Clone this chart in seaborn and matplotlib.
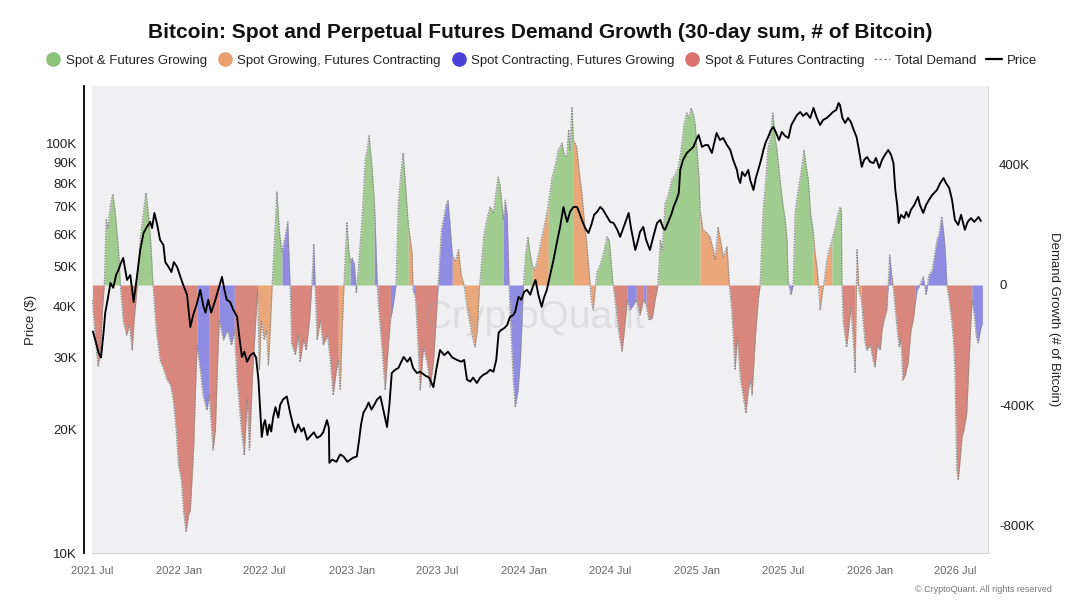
import numpy as np
import pandas as pd
import matplotlib
matplotlib.use("Agg")
import matplotlib.pyplot as plt
from matplotlib.lines import Line2D
from matplotlib.ticker import NullLocator
import seaborn as sns

# ---------------- data ----------------
START = "2021-07-01"

# Total demand growth (30-day sum), thousands of BTC, at day offsets from START
demand_days = [
    1, 7, 13, 18, 22, 26, 30, 34, 39, 44,
    49, 56, 60, 66, 73, 79, 85, 89, 96, 102,
    108, 114, 119, 124, 129, 136, 144, 151, 159, 166,
    172, 178, 183, 189, 194, 199, 204, 208, 215, 222,
    229, 235, 243, 248, 256, 261, 265, 269, 278, 286,
    295, 301, 307, 316, 322, 328, 333, 339, 345, 350,
    354, 358, 364, 369, 373, 377, 381, 386, 391, 396,
    402, 407, 414, 417, 420, 422, 430, 436, 440, 447,
    453, 460, 465, 469, 472, 476, 483, 489, 498, 504,
    510, 517, 521, 525, 529, 533, 539, 543, 546, 550,
    555, 559, 563, 571, 578, 582, 586, 592, 597, 603,
    605, 612, 620, 626, 631, 637, 643, 648, 653, 658,
    662, 669, 677, 679, 684, 688, 694, 701, 709, 715,
    722, 729, 734, 739, 745, 749, 753, 758, 762, 768,
    775, 781, 787, 791, 798, 804, 810, 815, 819, 825,
    829, 835, 842, 849, 855, 859, 863, 870, 874, 878,
    882, 887, 891, 895, 901, 906, 912, 917, 922, 927,
    931, 937, 944, 950, 954, 961, 965, 973, 980, 986,
    994, 999, 1004, 1008, 1011, 1015, 1018, 1025, 1030, 1036,
    1041, 1047, 1051, 1056, 1060, 1064, 1068, 1075, 1081, 1089,
    1094, 1098, 1102, 1109, 1115, 1121, 1126, 1132, 1138, 1145,
    1151, 1159, 1166, 1172, 1178, 1185, 1191, 1197, 1202, 1206,
    1212, 1219, 1226, 1233, 1240, 1246, 1252, 1258, 1263, 1267,
    1271, 1276, 1279, 1284, 1286, 1292, 1299, 1307, 1314, 1318,
    1324, 1331, 1335, 1343, 1348, 1353, 1360, 1365, 1371, 1377,
    1383, 1388, 1392, 1396, 1403, 1409, 1413, 1417, 1419, 1425,
    1430, 1434, 1440, 1445, 1448, 1455, 1460, 1466, 1470, 1472,
    1478, 1483, 1487, 1492, 1498, 1502, 1506, 1510, 1515, 1520,
    1525, 1529, 1534, 1540, 1544, 1549, 1554, 1559, 1565, 1572,
    1577, 1582, 1585, 1586, 1589, 1596, 1600, 1605, 1610, 1614,
    1618, 1622, 1627, 1635, 1639, 1646, 1652, 1656, 1661, 1667,
    1671, 1675, 1681, 1684, 1687, 1690, 1694, 1701, 1707, 1711,
    1715, 1720, 1726, 1732, 1737, 1741, 1745, 1751, 1758, 1764,
    1770, 1777, 1782, 1787, 1791, 1797, 1801, 1804, 1808, 1813,
    1818, 1822, 1825, 1829, 1832, 1836, 1840, 1844, 1850, 1855,
    1861, 1866, 1870, 1874, 1879, 1883,
]
demand_k = [
    -50, -183, -270, -217, -83, 0, 217, 190, 267, 303,
    243, 117, 0, -117, -167, -133, -217, -117, 0, 150,
    233, 307, 240, 150, 0, -150, -250, -277, -317, -333,
    -383, -483, -600, -650, -760, -823, -767, -750, -540, -200,
    -283, -367, -417, -367, -550, -483, -283, -117, -183, -150,
    -200, -150, -317, -483, -567, -383, -550, -317, -150, -17,
    -283, -117, -183, -150, -267, -150, 0, 150, 310, 183,
    107, 150, 210, 83, -50, -193, -233, -167, -257, -183,
    -217, -117, 0, 137, 0, -183, -117, -200, -167, -250,
    -367, -283, -250, -350, -150, 0, 210, 117, 77, 90,
    67, -27, 50, 217, 417, 450, 497, 397, 283, 17,
    -50, -183, -350, -217, -117, -67, 0, 273, 367, 440,
    357, 200, 107, -17, -40, -150, -350, -207, -260, -340,
    -260, -83, 50, 183, 233, 267, 283, 183, 100, 77,
    117, 33, 0, -50, -117, -167, -207, -150, -17, 93,
    167, 217, 260, 240, 317, 360, 333, 217, 283, 233,
    0, -183, -317, -407, -350, -250, -17, 100, 160, 100,
    67, 50, 100, 150, 177, 233, 267, 360, 400, 450,
    473, 433, 427, 517, 450, 593, 483, 460, 383, 307,
    217, 127, 50, -50, -83, -17, 43, 67, 100, 160,
    150, 77, 0, -83, -167, -223, -150, -50, -83, -67,
    -50, -100, -50, -67, -117, -110, -50, 0, 150, 117,
    273, 300, 350, 367, 393, 450, 533, 573, 557, 590,
    573, 533, 460, 350, 250, 183, 177, 160, 117, 83,
    193, 133, 93, 127, 0, -83, -283, -173, -307, -367,
    -427, -350, -317, -367, -173, -50, 0, 150, 240, 350,
    460, 483, 573, 483, 460, 350, 283, 217, 150, 17,
    -33, 0, 240, 300, 360, 400, 450, 400, 350, 233,
    183, 110, 50, -83, -33, 17, 83, 117, 150, 193,
    233, 260, 250, 0, -127, -207, -150, -73, -183, -293,
    117, -17, -50, -193, -217, -200, -250, -273, -200, -217,
    -150, -117, -83, 0, 100, 50, 0, -117, -207, -183,
    -317, -300, -260, -150, -117, -60, -17, 0, 27, -33,
    33, 50, 100, 150, 167, 227, 177, 127, 0, -50,
    -117, -183, -283, -617, -650, -583, -507, -483, -427, -250,
    -50, -100, -167, -193, -150, -127,
]

# Regime runs: day offset where each colour state starts
regime_start_days = [
    1, 26, 60, 96, 129, 222, 248, 269, 301, 350,
    381, 402, 422, 465, 472, 521, 533, 546, 559, 597,
    605, 631, 643, 669, 679, 684, 729, 762, 819, 870,
    912, 931, 965, 1018, 1064, 1102, 1132, 1151, 1166, 1172,
    1197, 1286, 1348, 1413, 1472, 1483, 1525, 1565, 1586, 1614,
    1627, 1681, 1690, 1741, 1808, 1861,
]
regime_codes = [
    "R", "G", "R", "G", "R", "B", "R", "B", "R", "O",
    "G", "B", "R", "B", "R", "O", "G", "B", "G", "B",
    "R", "B", "G", "O", "B", "R", "B", "O", "G", "B",
    "G", "O", "G", "O", "G", "R", "B", "R", "B", "R",
    "G", "O", "R", "G", "B", "G", "O", "G", "R", "O",
    "R", "B", "R", "B", "R", "B",
]

# Bitcoin price, thousands of USD
price_days = [
    2, 7, 14, 19, 24, 28, 33, 39, 45, 51,
    56, 62, 66, 74, 81, 88, 95, 102, 109, 116,
    123, 127, 132, 138, 144, 151, 155, 162, 168, 173,
    180, 187, 193, 201, 208, 214, 221, 229, 235, 240,
    246, 252, 261, 267, 275, 280, 285, 292, 299, 307,
    311, 317, 322, 328, 335, 342, 347, 352, 356, 359,
    363, 366, 371, 375, 379, 383, 388, 394, 398, 404,
    412, 419, 425, 430, 436, 443, 448, 455, 462, 469,
    476, 483, 489, 497, 501, 502, 508, 517, 525, 532,
    540, 546, 553, 560, 565, 569, 574, 580, 585, 591,
    597, 603, 610, 616, 624, 629, 634, 641, 648, 659,
    667, 673, 679, 687, 694, 705, 713, 722, 728, 736,
    745, 753, 762, 772, 781, 787, 793, 800, 806, 814,
    821, 827, 835, 842, 849, 855, 860, 865, 872, 878,
    884, 891, 895, 902, 908, 914, 920, 927, 932, 938,
    944, 951, 956, 962, 969, 976, 983, 990, 997, 1001,
    1005, 1011, 1018, 1026, 1030, 1036, 1043, 1050, 1056, 1062,
    1068, 1075, 1081, 1087, 1096, 1103, 1111, 1117, 1126, 1135,
    1140, 1149, 1155, 1159, 1166, 1172, 1180, 1187, 1195, 1202,
    1208, 1212, 1219, 1225, 1230, 1236, 1241, 1244, 1250, 1258,
    1265, 1272, 1278, 1283, 1290, 1297, 1303, 1311, 1316, 1321,
    1328, 1335, 1343, 1350, 1356, 1364, 1367, 1371, 1375, 1381,
    1388, 1392, 1399, 1404, 1409, 1415, 1420, 1425, 1430, 1436,
    1441, 1446, 1453, 1459, 1466, 1473, 1479, 1485, 1491, 1498,
    1504, 1511, 1519, 1526, 1533, 1540, 1546, 1554, 1561, 1567,
    1574, 1579, 1582, 1587, 1593, 1599, 1605, 1611, 1617, 1622,
    1628, 1633, 1639, 1646, 1653, 1658, 1665, 1671, 1677, 1684,
    1690, 1695, 1699, 1703, 1706, 1711, 1718, 1722, 1727, 1732,
    1739, 1747, 1751, 1758, 1764, 1770, 1777, 1787, 1794, 1801,
    1806, 1813, 1819, 1825, 1832, 1838, 1846, 1852, 1859, 1866,
    1875, 1880,
]
price_k = [
    34.7, 33.1, 30.8, 30.0, 34.1, 38.6, 41.5, 45.6, 44.4, 47.7,
    49.1, 51.3, 52.5, 46.4, 47.7, 41.0, 47.2, 54.9, 60.4, 62.5,
    64.3, 62.1, 67.6, 63.2, 58.1, 56.5, 51.3, 49.9, 48.5, 51.3,
    49.9, 47.2, 45.1, 42.7, 35.6, 38.1, 40.3, 43.9, 40.3, 38.6,
    41.5, 38.6, 41.5, 43.9, 47.2, 43.9, 41.5, 41.0, 39.2, 37.7,
    34.1, 30.1, 31.0, 29.3, 30.4, 30.8, 30.0, 26.5, 22.0, 19.2,
    20.6, 21.1, 19.4, 20.6, 19.8, 21.4, 22.7, 21.4, 23.0, 23.7,
    24.1, 22.0, 20.6, 19.7, 20.6, 19.8, 20.2, 18.9, 19.3, 19.7,
    19.1, 19.3, 19.7, 21.1, 20.2, 16.6, 16.9, 16.7, 17.4, 17.2,
    16.7, 16.9, 17.1, 17.2, 18.9, 20.6, 22.0, 22.6, 23.3, 22.4,
    23.0, 23.7, 24.1, 22.4, 20.3, 23.0, 27.5, 28.0, 28.3, 30.1,
    29.3, 30.0, 28.3, 27.5, 27.7, 27.1, 26.8, 25.4, 28.0, 31.3,
    30.4, 31.0, 30.0, 29.6, 29.3, 29.6, 26.5, 26.2, 26.8, 26.0,
    26.8, 27.2, 27.5, 28.0, 27.7, 29.6, 34.5, 35.0, 35.4, 36.0,
    37.7, 38.1, 38.8, 42.2, 41.5, 43.4, 43.9, 42.7, 44.6, 46.4,
    42.7, 39.9, 42.0, 43.9, 47.7, 51.9, 57.1, 62.5, 69.9, 66.9,
    64.3, 68.0, 69.9, 69.9, 68.0, 65.0, 62.1, 60.4, 63.2, 66.9,
    68.0, 69.9, 68.8, 66.9, 64.3, 63.9, 61.5, 59.1, 63.2, 67.6,
    62.1, 54.9, 58.1, 60.8, 62.5, 58.1, 54.9, 59.1, 63.9, 65.0,
    62.1, 61.5, 64.3, 66.9, 69.9, 72.7, 75.6, 86.1, 91.1, 94.7,
    96.3, 98.0, 101.9, 104.8, 98.0, 99.0, 99.0, 94.7, 100.2, 106.0,
    101.9, 103.0, 99.0, 96.3, 91.1, 86.1, 82.3, 80.0, 85.1, 83.2,
    86.1, 81.4, 76.9, 82.3, 86.1, 91.1, 96.3, 100.7, 103.6, 107.8,
    109.6, 106.6, 101.9, 106.6, 104.2, 103.0, 110.8, 114.0, 117.3, 119.2,
    116.6, 118.6, 115.3, 122.0, 115.3, 110.8, 114.0, 115.3, 117.3, 119.2,
    120.6, 125.4, 124.0, 115.3, 112.1, 115.3, 112.7, 107.8, 103.6, 96.3,
    87.6, 91.1, 92.6, 90.0, 89.5, 92.1, 87.1, 91.1, 93.7, 96.3,
    93.7, 89.5, 76.9, 70.7, 63.9, 66.9, 65.7, 68.0, 66.1, 68.8,
    70.7, 74.0, 70.7, 67.6, 70.7, 72.7, 74.8, 76.9, 80.0, 82.3,
    80.0, 77.8, 72.7, 65.0, 63.2, 66.9, 61.5, 64.3, 65.7, 64.3,
    66.1, 64.6,
]

categories = [
    "Spot & Futures Growing",
    "Spot Growing, Futures Contracting",
    "Spot Contracting, Futures Growing",
    "Spot & Futures Contracting",
]
category_codes = ["G", "O", "B", "R"]
legend_colors = ["#8cc27a", "#e8a06e", "#4a3fd6", "#d9736b"]
fill_colors = ["#a1cc90", "#eaa77a", "#918ce3", "#d9877d"]

price_ticks = [10000, 20000, 30000, 40000, 50000, 60000, 70000, 80000, 90000, 100000]
price_tick_labels = ["10K", "20K", "30K", "40K", "50K", "60K", "70K", "80K", "90K", "100K"]
demand_ticks = [-800, -400, 0, 400]
demand_tick_labels = ["-800K", "-400K", "0", "400K"]
date_ticks = ["2021-07-01", "2022-01-01", "2022-07-01", "2023-01-01", "2023-07-01",
              "2024-01-01", "2024-07-01", "2025-01-01", "2025-07-01", "2026-01-01",
              "2026-07-01"]
date_tick_labels = ["2021 Jul", "2022 Jan", "2022 Jul", "2023 Jan", "2023 Jul",
                    "2024 Jan", "2024 Jul", "2025 Jan", "2025 Jul", "2026 Jan", "2026 Jul"]

TITLE = "Bitcoin: Spot and Perpetual Futures Demand Growth (30-day sum, # of Bitcoin)"

assert len(demand_days) == len(demand_k)
assert len(price_days) == len(price_k)
assert len(regime_start_days) == len(regime_codes)

# ---------------- build frames ----------------
sns.set_style("white")
plt.rcParams["font.family"] = ["Liberation Sans", "DejaVu Sans"]

base = pd.Timestamp(START)
dem = pd.DataFrame({
    "date": base + pd.to_timedelta(demand_days, unit="D"),
    "demand": demand_k,
})
idx = np.searchsorted(regime_start_days, demand_days, side="right") - 1
dem["regime"] = np.array(regime_codes)[idx]
px = pd.DataFrame({
    "date": base + pd.to_timedelta(price_days, unit="D"),
    "price": np.array(price_k) * 1000.0,
})
fill_map = dict(zip(category_codes, fill_colors))

# ---------------- figure ----------------
fig = plt.figure(figsize=(10.8, 6.04), dpi=100)
ax = fig.add_axes([92 / 1080, 1 - 553 / 604, 896 / 1080, 467 / 604])
ax.set_facecolor("#f0f0f2")

codes = dem["regime"].to_numpy()
dates = dem["date"].to_numpy()
vals = dem["demand"].to_numpy(dtype=float)
n = len(codes)
i = 0
while i < n - 1:
    j = i
    while j + 1 < n - 1 and codes[j + 1] == codes[i]:
        j += 1
    ax.fill_between(dates[i:j + 2], 0, vals[i:j + 2], color=fill_map[codes[i]],
                    linewidth=0, zorder=2)
    i = j + 1

sns.lineplot(data=dem, x="date", y="demand", ax=ax, color="#8a8a8a", linewidth=0.9,
             linestyle=(0, (1.2, 1.0)), estimator=None, sort=False, zorder=3)

ax.text(0.494, 0.503, "CryptoQuant", transform=ax.transAxes, ha="center", va="center",
        fontsize=28, color="#a0a0a8", alpha=0.22, zorder=3.5)

ax2 = ax.twinx()
ax2.set_yscale("log")
sns.lineplot(data=px, x="date", y="price", ax=ax2, color="black", linewidth=1.35,
             estimator=None, sort=False, zorder=4)

ax.set_xlim(base, base + pd.Timedelta(days=1895))
ax.set_ylim(-893, 663)
ax2.set_ylim(10000, 138000)

# x axis
ax.set_xticks(pd.to_datetime(date_ticks))
ax.set_xticklabels(date_tick_labels)
ax.tick_params(axis="x", direction="in", length=4, width=0.8, color="#d0d0d0",
               labelcolor="#666666", labelsize=8, pad=9)
ax.set_xlabel("")

# right axis (demand)
ax.yaxis.tick_right()
ax.yaxis.set_label_position("right")
ax.set_yticks(demand_ticks)
ax.set_yticklabels(demand_tick_labels)
ax.tick_params(axis="y", length=0, labelsize=9.5, labelcolor="#222222", pad=8)
ax.set_ylabel("Demand Growth (# of Bitcoin)", fontsize=9.5, color="#222222",
              rotation=270, va="bottom", labelpad=10)

# left axis (price)
ax2.yaxis.tick_left()
ax2.yaxis.set_label_position("left")
ax2.set_yticks(price_ticks)
ax2.set_yticklabels(price_tick_labels)
ax2.yaxis.set_minor_locator(NullLocator())
ax2.tick_params(axis="y", which="both", length=0, labelsize=9.5, labelcolor="#222222", pad=5)
ax2.set_ylabel("Price ($)", fontsize=9.5, color="#222222", labelpad=6)
ax2.set_xlabel("")

for s in ["top", "left"]:
    ax.spines[s].set_visible(False)
ax.spines["right"].set_color("#d6d6d6")
ax.spines["bottom"].set_color("#d6d6d6")
for s in ["top", "right", "bottom"]:
    ax2.spines[s].set_visible(False)
ax2.spines["left"].set_position(("outward", 6))
ax2.spines["left"].set_color("black")
ax2.spines["left"].set_linewidth(1.3)

# title & legend
fig.text(0.5, 1 - 32 / 604, TITLE, ha="center", va="center", fontsize=15,
         fontweight="bold", color="#111111")

handles = [Line2D([0], [0], marker="o", linestyle="none", markersize=9.5,
                  markerfacecolor=c, markeredgecolor=c) for c in legend_colors]
handles.append(Line2D([0], [0], color="#8a8a8a", linewidth=1.0, linestyle=(0, (2, 1.5))))
handles.append(Line2D([0], [0], color="black", linewidth=1.6))
labels = categories + ["Total Demand", "Price"]
fig.legend(handles, labels, loc="center", bbox_to_anchor=(541 / 1080, 1 - 61 / 604),
           ncol=6, frameon=False, fontsize=9.5, handletextpad=0.35, columnspacing=0.75,
           handlelength=1.2, labelcolor="#222222")

fig.text(1052 / 1080, 1 - 589 / 604, "\u00a9 CryptoQuant. All rights reserved",
         ha="right", va="center", fontsize=6.5, color="#777777")

fig.savefig("out.png", dpi=100)
